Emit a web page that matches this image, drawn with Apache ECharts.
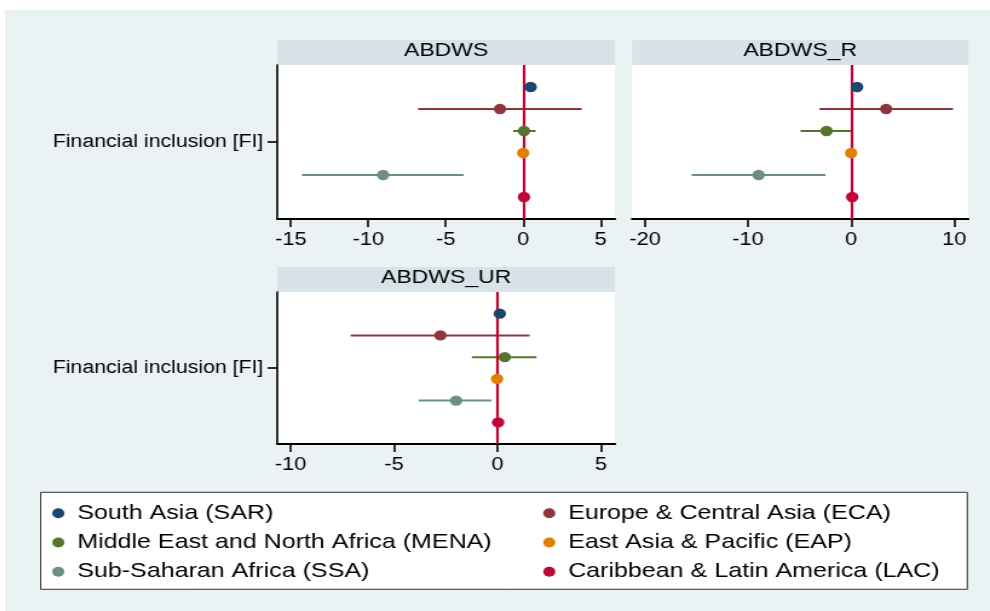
<!DOCTYPE html>
<html><head><meta charset="utf-8">
<script src="https://cdn.jsdelivr.net/npm/echarts@6/dist/echarts.min.js"></script>
<style>
html,body{margin:0;padding:0;background:#fff;overflow:hidden;}
#wrap{position:relative;width:990px;height:611px;overflow:hidden;background:#fff;}
#chart{position:absolute;left:5px;top:10px;width:814px;height:601px;transform:scaleX(1.21);transform-origin:0 0;}
</style></head><body><div id="wrap"><div id="chart"></div></div>
<script>
// ---- data ----
const regions = ['South Asia (SAR)', 'Europe & Central Asia (ECA)', 'Middle East and North Africa (MENA)',
                 'East Asia & Pacific (EAP)', 'Sub-Saharan Africa (SSA)', 'Caribbean & Latin America (LAC)'];
const panels = ['ABDWS', 'ABDWS_R', 'ABDWS_UR'];
const yLabel = ['Financial inclusion [FI]'];
const refValue = 0;

const coefABDWS = [0.48, -1.5, 0.05, 0.0, -9.04, 0.05];
const loABDWS   = [0.3, -6.78, -0.65, -0.15, -14.28, -0.1];
const hiABDWS   = [0.65, 3.77, 0.8, 0.15, -3.85, 0.2];

const coefABDWS_R = [0.58, 3.39, -2.39, 0.0, -8.98, 0.1];
const loABDWS_R   = [0.3, -3.07, -4.91, -0.2, -15.48, -0.2];
const hiABDWS_R   = [0.85, 9.88, 0.0, 0.2, -2.49, 0.35];

const coefABDWS_UR = [0.11, -2.76, 0.35, -0.02, -2.0, 0.03];
const loABDWS_UR   = [-0.05, -7.1, -1.24, -0.15, -3.81, -0.1];
const hiABDWS_UR   = [0.25, 1.55, 1.89, 0.1, -0.29, 0.15];

const ticksABDWS = [-15, -10, -5, 0, 5];
const ticksABDWS_R = [-20, -10, 0, 10];
const ticksABDWS_UR = [-10, -5, 0, 5];

// ---- styling / layout ----
const colors = ['#1a476f', '#90353b', '#55752f', '#e37e00', '#6e8e84', '#c10534'];
const FONT = 'Liberation Sans, Arial, sans-serif';
const panelData = [
  {coef: coefABDWS, lo: loABDWS, hi: hiABDWS, ticks: ticksABDWS},
  {coef: coefABDWS_R, lo: loABDWS_R, hi: hiABDWS_R, ticks: ticksABDWS_R},
  {coef: coefABDWS_UR, lo: loABDWS_UR, hi: hiABDWS_UR, ticks: ticksABDWS_UR}
];
const layout = [
  {left: 225.0, right: 504.1, top: 55, bottom: 209, min: -15.87, max: 5.92, showY: true},
  {left: 518.2, right: 796.1, top: 55, bottom: 209, min: -21.26, max: 11.36, showY: false},
  {left: 225.0, right: 504.1, top: 282, bottom: 434, min: -10.65, max: 5.68, showY: true}
];
const STRIP_H = 25;

const grids = [], xAxes = [], yAxes = [], series = [], graphics = [];
layout.forEach((L, p) => {
  grids.push({left: L.left, top: L.top, width: L.right - L.left, height: L.bottom - L.top,
    show: true, backgroundColor: '#ffffff', borderWidth: 0});
  xAxes.push({type: 'value', gridIndex: p, min: L.min, max: L.max,
    splitLine: {show: false},
    axisLine: {show: true, onZero: false, lineStyle: {color: '#000', width: 2}},
    axisTick: {show: true, customValues: panelData[p].ticks, length: 8, lineStyle: {color: '#000', width: 1.6}},
    axisLabel: {show: true, customValues: panelData[p].ticks, margin: 12, color: '#000', fontSize: 18, fontFamily: FONT}
  });
  yAxes.push({type: 'value', gridIndex: p, min: 0, max: regions.length + 1, inverse: true,
    splitLine: {show: false},
    axisLine: {show: L.showY, onZero: false, lineStyle: {color: '#000', width: 1.6}},
    axisTick: {show: L.showY, customValues: [(regions.length + 1) / 2], length: 8, lineStyle: {color: '#000', width: 1.6}},
    axisLabel: {show: L.showY, customValues: [(regions.length + 1) / 2], formatter: () => yLabel[0],
      margin: 11.5, color: '#000', fontSize: 17.6, fontFamily: FONT}
  });
  const d = panelData[p];
  series.push({
    type: 'custom', name: panels[p] + ' CI', xAxisIndex: p, yAxisIndex: p, z: 2, silent: true,
    dimensions: ['lo', 'hi', 'row'], encode: {x: [0, 1], y: 2},
    data: regions.map((r, i) => [d.lo[i], d.hi[i], i + 1]),
    renderItem: (params, api) => {
      const row = api.value(2);
      const a = api.coord([api.value(0), row]);
      const b = api.coord([api.value(1), row]);
      return {type: 'line', shape: {x1: a[0], y1: a[1], x2: b[0], y2: b[1]},
        style: {stroke: colors[params.dataIndex], lineWidth: 2}};
    },
    markLine: {silent: true, symbol: 'none', label: {show: false}, z: 5, animation: false,
      lineStyle: {color: '#c10534', width: 2.2, type: 'solid'}, data: [{xAxis: refValue}]}
  });
  regions.forEach((r, i) => {
    series.push({type: 'scatter', name: r, xAxisIndex: p, yAxisIndex: p, z: 10,
      symbol: 'circle', symbolSize: 10.3, itemStyle: {color: colors[i], opacity: 1},
      data: [[d.coef[i], i + 1]]});
  });
  graphics.push({type: 'rect', shape: {x: L.left, y: L.top - STRIP_H, width: L.right - L.left, height: STRIP_H},
    style: {fill: '#d7e3e8'}, silent: true});
  graphics.push({type: 'text', x: (L.left + L.right) / 2, y: L.top - STRIP_H / 2 - 1.5, silent: true,
    style: {text: panels[p], fill: '#000', fontSize: 19, fontFamily: FONT, align: 'center', verticalAlign: 'middle'}});
});
graphics.push({type: 'rect', shape: {x: 29.5, y: 482.3, width: 765.8, height: 97}, z: -1, silent: true,
  style: {fill: '#ffffff', stroke: '#333333', lineWidth: 1}});

const legendCommon = {orient: 'vertical', top: 491.3, padding: 0, itemGap: 5.2, itemWidth: 10, itemHeight: 10,
  icon: 'circle', selectedMode: false,
  textStyle: {color: '#000', fontSize: 20.7, fontFamily: FONT, lineHeight: 24, padding: [0, 0, 0, 5.6]}};

const option = {
  animation: false,
  backgroundColor: '#eaf2f3',
  grid: grids, xAxis: xAxes, yAxis: yAxes, series: series, graphic: graphics,
  legend: [
    Object.assign({left: 39.05, data: [regions[0], regions[2], regions[4]]}, legendCommon),
    Object.assign({left: 444.8, data: [regions[1], regions[3], regions[5]]}, legendCommon)
  ]
};
const chart = echarts.init(document.getElementById('chart'), null, {renderer: 'canvas'});
chart.setOption(option);
</script></body></html>
